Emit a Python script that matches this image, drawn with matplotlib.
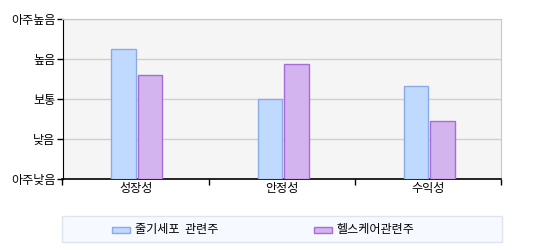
import numpy as np
import matplotlib
matplotlib.use("Agg")
import matplotlib.pyplot as plt
from matplotlib.patches import Rectangle

plt.rcParams['font.family'] = ['Noto Sans CJK KR', 'DejaVu Sans']

categories = ["성장성", "안정성", "수익성"]
level_labels = ["아주낮음", "낮음", "보통", "높음", "아주높음"]
series_names = ["줄기세포  관련주", "헬스케어관련주"]
stem_cell = [3.24, 2.0, 2.32]
healthcare = [2.59, 2.87, 1.44]

fills = ["#c0daff", "#d4b4ee"]
edges = ["#8aaae8", "#a86cd6"]


def main():
    fig = plt.figure(figsize=(5.44, 2.5), dpi=100)
    ax = fig.add_axes([62.5 / 544, 1 - 179 / 250, 438.5 / 544, 160 / 250])
    ax.set_facecolor("#f5f5f5")

    x = np.arange(len(categories))
    w = 0.167
    ax.bar(x - 0.082, stem_cell, w, color=fills[0], edgecolor=edges[0], linewidth=1, zorder=3)
    ax.bar(x + 0.100, healthcare, w, color=fills[1], edgecolor=edges[1], linewidth=1, zorder=3)

    ax.set_xlim(-0.5, 2.5)
    ax.set_ylim(0, 4)
    ax.set_yticks(range(5))
    ax.set_yticklabels(level_labels, fontsize=8.7)
    ax.set_xticks(x)
    ax.set_xticklabels(categories, fontsize=8.7)
    ax.set_xticks([-0.5, 0.5, 1.5, 2.5], minor=True)
    ax.tick_params(axis="x", which="major", length=0, pad=2)
    ax.tick_params(axis="x", which="minor", length=4, width=1, color="black")
    ax.tick_params(axis="y", length=4, width=1, pad=1)
    ax.grid(axis="y", color="#d0d0d0", linewidth=1, zorder=1)

    for side in ["top", "right"]:
        ax.spines[side].set_color("#c8c8c8")
    ax.spines["left"].set_color("black")
    ax.spines["bottom"].set_color("black")
    ax.spines["bottom"].set_linewidth(1.2)

    # 범례 (manual box)
    fig.patches.append(Rectangle((62.3 / 544, 1 - 242.3 / 250), 439.4 / 544, 26.3 / 250,
                                 transform=fig.transFigure, facecolor="#f6f9ff",
                                 edgecolor="#dce5ee", linewidth=1))
    handle_x = [112.3, 314.3]
    for i, name in enumerate(series_names):
        fig.patches.append(Rectangle((handle_x[i] / 544, 1 - 233.3 / 250), 17.5 / 544, 6.6 / 250,
                                     transform=fig.transFigure, facecolor=fills[i],
                                     edgecolor=edges[i], linewidth=1))
        fig.text((handle_x[i] + 22.5) / 544, 1 - 229.5 / 250, name, fontsize=8.7, va="center", ha="left")

    fig.savefig("out.png", dpi=100)


if __name__ == "__main__":
    main()
